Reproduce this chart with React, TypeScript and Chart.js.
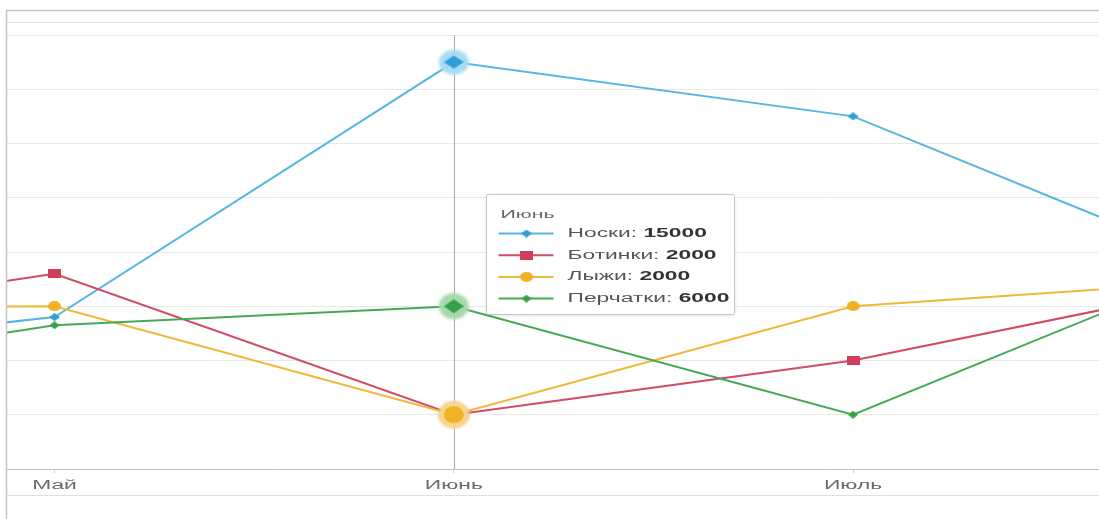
import React, { useEffect, useRef } from "react";
import { Chart, registerables } from "chart.js";

Chart.register(...registerables);

// ---- data ----
const categories = ["Апрель", "Май", "Июнь", "Июль", "Август"];
const seriesNames = ["Носки", "Ботинки", "Лыжи", "Перчатки"];
const socks = [4000, 5600, 15000, 13000, 7000];
const boots = [5000, 7200, 2000, 4000, 7000];
const skis = [5900, 6000, 2000, 6000, 7000];
const gloves = [3000, 5300, 6000, 2000, 8000];
const seriesValues = [socks, boots, skis, gloves];
const yMin = 0;
const yMax = 16000;
const yStep = 2000;
const hoveredCategory = "Июнь";

// ---- styles ----
const FONT = "'Liberation Sans', Arial, sans-serif";
const TEXT_STRETCH = 1.9;
const seriesStyles = [
  { line: "#55b6e2", fill: "#2f9fd9", halo: "#a6dbf3", shape: "diamond", small: [11, 8], big: [20, 13], haloSize: [30, 25] },
  { line: "#d24a63", fill: "#d23d5a", halo: "#eeb0bc", shape: "square", small: [13, 9], big: [20, 14], haloSize: [30, 25] },
  { line: "#f0b83a", fill: "#efb227", halo: "#f8d888", shape: "circle", small: [13, 10], big: [20, 17], haloSize: [30, 27] },
  { line: "#47a857", fill: "#36a047", halo: "#a5d9ad", shape: "diamond", small: [10, 8], big: [20, 14], haloSize: [30, 26] },
];

function makeMarker(shape: string, w: number, h: number, color: string, haloColor?: string, halo?: number[]) {
  const cw = halo ? halo[0] + 4 : w;
  const ch = halo ? halo[1] + 4 : h;
  const c = document.createElement("canvas");
  c.width = cw;
  c.height = ch;
  const g = c.getContext("2d")!;
  const cx = cw / 2;
  const cy = ch / 2;
  if (halo && haloColor) {
    g.save();
    g.filter = "blur(1.5px)";
    g.fillStyle = haloColor;
    g.beginPath();
    g.ellipse(cx, cy, halo[0] / 2, halo[1] / 2, 0, 0, Math.PI * 2);
    g.fill();
    g.restore();
  }
  g.fillStyle = color;
  g.beginPath();
  if (shape === "diamond") {
    g.moveTo(cx - w / 2, cy);
    g.lineTo(cx, cy - h / 2);
    g.lineTo(cx + w / 2, cy);
    g.lineTo(cx, cy + h / 2);
    g.closePath();
  } else if (shape === "square") {
    g.rect(cx - w / 2, cy - h / 2, w, h);
  } else {
    g.ellipse(cx, cy, w / 2, h / 2, 0, 0, Math.PI * 2);
  }
  g.fill();
  return c;
}

function stretchedText(ctx: CanvasRenderingContext2D, text: string, x: number, y: number, sx: number) {
  ctx.save();
  ctx.translate(x, y);
  ctx.scale(sx, 1);
  ctx.fillText(text, 0, 0);
  ctx.restore();
}

export default function App() {
  const canvasRef = useRef<HTMLCanvasElement | null>(null);

  useEffect(() => {
    const canvas = canvasRef.current;
    if (!canvas) return;
    const activeIndex = categories.indexOf(hoveredCategory);

    const smallMarkers = seriesStyles.map((s) => makeMarker(s.shape, s.small[0], s.small[1], s.fill));
    const bigMarkers = seriesStyles.map((s) => makeMarker(s.shape, s.big[0], s.big[1], s.fill, s.halo, s.haloSize));

    const overlay = {
      id: "overlay",
      beforeDatasetsDraw(chart: any) {
        const { ctx, chartArea } = chart;
        const x = Math.round(chart.scales.x.getPixelForValue(activeIndex)) + 0.5;
        ctx.save();
        ctx.strokeStyle = "#a9a9a9";
        ctx.lineWidth = 1;
        ctx.beginPath();
        ctx.moveTo(x, chartArea.top);
        ctx.lineTo(x, chartArea.bottom);
        ctx.stroke();
        ctx.restore();
      },
      afterDraw(chart: any) {
        const { ctx, chartArea } = chart;
        const xs = chart.scales.x;
        ctx.save();
        // frame
        ctx.strokeStyle = "#c4c4c4";
        ctx.lineWidth = 1.5;
        ctx.beginPath();
        ctx.moveTo(6, 10.5);
        ctx.lineTo(chart.width, 10.5);
        ctx.moveTo(6.5, 10);
        ctx.lineTo(6.5, chart.height);
        ctx.stroke();
        ctx.strokeStyle = "#e0e0e0";
        ctx.lineWidth = 1;
        ctx.beginPath();
        ctx.moveTo(7, 22.5);
        ctx.lineTo(chart.width, 22.5);
        ctx.moveTo(7, chartArea.bottom + 26.5);
        ctx.lineTo(chart.width, chartArea.bottom + 26.5);
        ctx.stroke();

        // category labels
        ctx.font = `12px ${FONT}`;
        ctx.fillStyle = "#6a6a6a";
        ctx.textBaseline = "middle";
        ctx.textAlign = "left";
        for (const t of xs.ticks) {
          const label = categories[t.value];
          const px = xs.getPixelForValue(t.value);
          const w = ctx.measureText(label).width * TEXT_STRETCH;
          stretchedText(ctx, label, px - w / 2, chartArea.bottom + 17, TEXT_STRETCH);
        }

        // tooltip
        const ax = xs.getPixelForValue(activeIndex);
        const bx = Math.round(ax) + 32.5;
        const by = 194.5;
        const bw = 248;
        const bh = 120;
        ctx.shadowColor = "rgba(0,0,0,0.12)";
        ctx.shadowBlur = 4;
        ctx.shadowOffsetY = 1;
        ctx.fillStyle = "#ffffff";
        ctx.beginPath();
        ctx.roundRect(bx, by, bw, bh, 2);
        ctx.fill();
        ctx.shadowColor = "transparent";
        ctx.strokeStyle = "#c6c6c6";
        ctx.lineWidth = 1;
        ctx.stroke();

        ctx.font = `11.5px ${FONT}`;
        ctx.fillStyle = "#666666";
        stretchedText(ctx, categories[activeIndex], bx + 14, by + 20, 1.85);

        seriesNames.forEach((name, i) => {
          const ry = by + 39 + i * 21.7;
          const s = seriesStyles[i];
          ctx.strokeStyle = s.line;
          ctx.lineWidth = 2;
          ctx.beginPath();
          ctx.moveTo(bx + 12, ry);
          ctx.lineTo(bx + 67, ry);
          ctx.stroke();
          const m = smallMarkers[i];
          ctx.drawImage(m, bx + 40 - m.width / 2, ry - m.height / 2);
          const lbl = name + ": ";
          ctx.font = `12px ${FONT}`;
          ctx.fillStyle = "#555555";
          stretchedText(ctx, lbl, bx + 81, ry, TEXT_STRETCH);
          const lw = ctx.measureText(lbl).width * TEXT_STRETCH;
          ctx.font = `bold 12px ${FONT}`;
          ctx.fillStyle = "#333333";
          stretchedText(ctx, String(seriesValues[i][activeIndex]), bx + 81 + lw, ry, TEXT_STRETCH);
        });
        ctx.restore();
      },
    };

    const chart = new Chart(canvas, {
      type: "line",
      data: {
        datasets: seriesValues.map((vals, i) => ({
          label: seriesNames[i],
          data: vals.map((v, j) => ({ x: j, y: v })),
          borderColor: seriesStyles[i].line,
          backgroundColor: seriesStyles[i].fill,
          borderWidth: 2,
          tension: 0,
          pointRadius: 5,
          pointStyle: (c: any) => (c.dataIndex === activeIndex ? bigMarkers[i] : smallMarkers[i]),
          order: -i,
        })),
      },
      options: {
        responsive: false,
        animation: false,
        events: [],
        layout: { autoPadding: false, padding: { left: 6, top: 35, right: 0, bottom: 0 } },
        plugins: { legend: { display: false }, tooltip: { enabled: false } },
        scales: {
          x: {
            type: "linear",
            min: 0.8785,
            max: 3.616,
            ticks: { display: false },
            grid: { drawOnChartArea: false, drawTicks: true, tickLength: 4, color: "#d0d0d0" },
            border: { display: true, color: "#c2c2c2", width: 1 },
            afterBuildTicks: (scale: any) => {
              scale.ticks = categories
                .map((_, i) => ({ value: i }))
                .filter((t) => t.value >= scale.min && t.value <= scale.max);
            },
            afterFit: (scale: any) => {
              scale.height = 50;
            },
          },
          y: {
            min: yMin,
            max: yMax,
            ticks: { display: false, stepSize: yStep },
            grid: { color: "#e8e8e8", drawTicks: false },
            border: { display: false },
            afterFit: (scale: any) => {
              scale.width = 0;
            },
          },
        },
      },
      plugins: [overlay],
    });

    return () => chart.destroy();
  }, []);

  return (
    <div style={{ position: "fixed", left: 0, top: 0, width: 1099, height: 519, background: "#fff", overflow: "hidden" }}>
      <canvas ref={canvasRef} width={1099} height={519} style={{ display: "block" }} />
    </div>
  );
}
